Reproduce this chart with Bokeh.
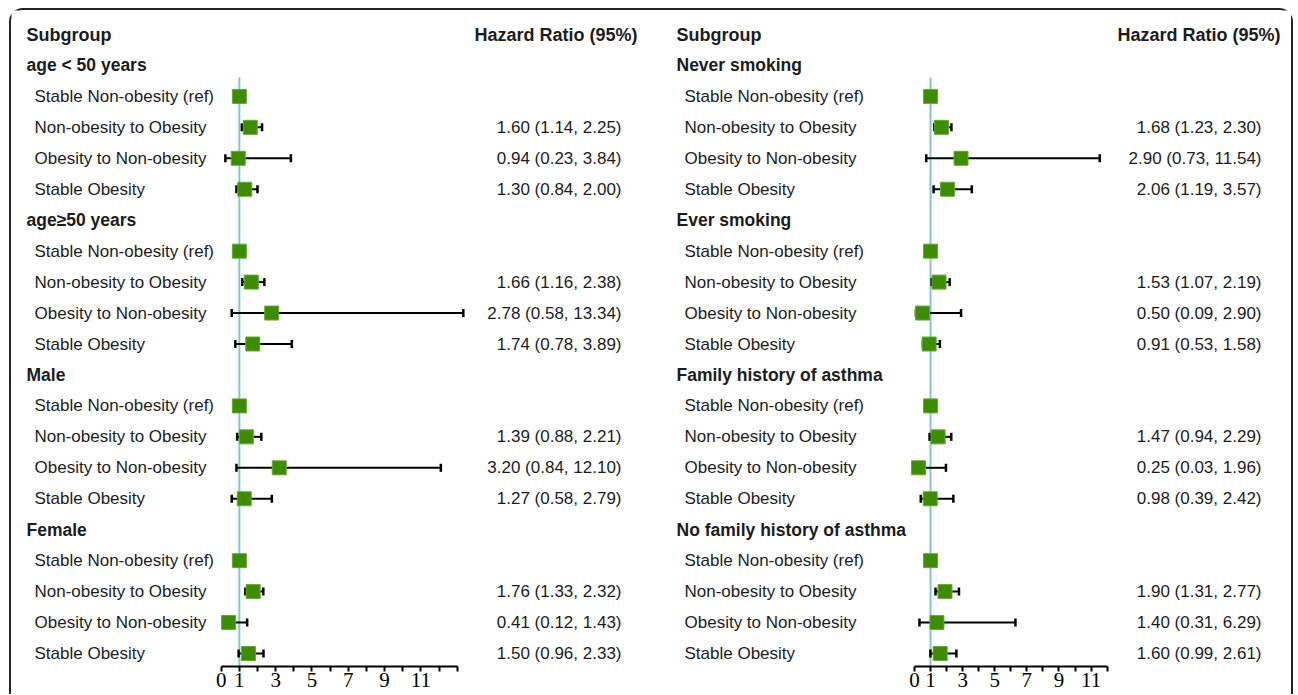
from bokeh.plotting import figure
from bokeh.models import Range1d, LinearAxis, FixedTicker, AllLabels
from bokeh.layouts import row
from bokeh.core.properties import value
from bokeh.embed import file_html
from bokeh.resources import INLINE

# ---------------- data ----------------
row_labels = ["Stable Non-obesity (ref)", "Non-obesity to Obesity",
              "Obesity to Non-obesity", "Stable Obesity"]

left_groups = ["age < 50 years", "age\u226550 years", "Male", "Female"]
left_hr = [1.60, 0.94, 1.30, 1.66, 2.78, 1.74, 1.39, 3.20, 1.27, 1.76, 0.41, 1.50]
left_lo = [1.14, 0.23, 0.84, 1.16, 0.58, 0.78, 0.88, 0.84, 0.58, 1.33, 0.12, 0.96]
left_hi = [2.25, 3.84, 2.00, 2.38, 13.34, 3.89, 2.21, 12.10, 2.79, 2.32, 1.43, 2.33]

right_groups = ["Never smoking", "Ever smoking", "Family history of asthma",
                "No family history of asthma"]
right_hr = [1.68, 2.90, 2.06, 1.53, 0.50, 0.91, 1.47, 0.25, 0.98, 1.90, 1.40, 1.60]
right_lo = [1.23, 0.73, 1.19, 1.07, 0.09, 0.53, 0.94, 0.03, 0.39, 1.31, 0.31, 0.99]
right_hi = [2.30, 11.54, 3.57, 2.19, 2.90, 1.58, 2.29, 1.96, 2.42, 2.77, 6.29, 2.61]

ref_value = 1.0
left_axis_max = 13
right_axis_max = 12
major_tick_values = [0, 1, 3, 5, 7, 9, 11]

title_subgroup = "Subgroup"
title_hr = "Hazard Ratio (95%)"

# ---------------- layout constants (page pixels) ----------------
ROW0 = 34.0        # page y of header row
STEP = 30.95       # row pitch
FIG_TOP = 10       # page y of figure top
FIG_H = 684
BOTTOM = 28
SANS = value("Liberation Sans")
SERIF = "Liberation Serif"
TXT = "#1c1c1c"
GREEN = "#3e8c00"
GREEN_EDGE = "#63a834"
REFC = "#80c8d0"


def panel(groups, hr, lo, hi, axis_max, fig_left, width, zero_px, ppu,
          sub_x, lab_x, val_r, head_r):
    def px(page_x):
        return (page_x - zero_px) / ppu

    frame_h = FIG_H - BOTTOM
    y_top = (FIG_TOP - ROW0) / STEP
    y_bot = (FIG_TOP + frame_h - ROW0) / STEP

    p = figure(width=width, height=FIG_H, output_backend="svg", toolbar_location=None,
               x_range=Range1d(px(fig_left), px(fig_left + width)),
               y_range=Range1d(y_bot, y_top),
               x_axis_location=None, y_axis_location=None,
               min_border_left=0, min_border_right=0, min_border_top=0,
               min_border_bottom=BOTTOM)
    p.outline_line_color = None
    p.grid.visible = False
    p.background_fill_color = "white"
    p.border_fill_color = "white"

    # headers
    p.text(x=[px(sub_x)], y=[0], text=[title_subgroup], text_font=SANS,
           text_font_style="bold", text_font_size="18px", text_baseline="middle",
           text_align="left", text_color=TXT)
    p.text(x=[px(head_r)], y=[0], text=[title_hr], text_font=SANS,
           text_font_style="bold", text_font_size="18px", text_baseline="middle",
           text_align="right", text_color=TXT)

    gy = [1 + 5 * g for g in range(len(groups))]
    p.text(x=[px(sub_x)] * len(groups), y=gy, text=groups, text_font=SANS,
           text_font_style="bold", text_font_size="17.5px", text_baseline="middle",
           text_align="left", text_color=TXT)

    ly, lt = [], []
    for g in range(len(groups)):
        for k, lab in enumerate(row_labels):
            ly.append(2 + 5 * g + k)
            lt.append(lab)
    p.text(x=[px(lab_x)] * len(lt), y=ly, text=lt, text_font=SANS,
           text_font_size="17px", text_baseline="middle", text_align="left",
           text_color=TXT)

    ys = []
    for g in range(len(groups)):
        for k in range(1, 4):
            ys.append(2 + 5 * g + k)
    vals = ["%.2f (%.2f, %.2f)" % (a, b, c) for a, b, c in zip(hr, lo, hi)]
    p.text(x=[px(val_r)] * len(vals), y=ys, text=vals, text_font=SANS,
           text_font_size="17px", text_baseline="middle", text_align="right",
           text_color=TXT)

    # reference line
    p.segment(x0=[ref_value], y0=[1.39], x1=[ref_value], y1=[y_bot],
              line_color=REFC, line_width=2)

    # CIs
    p.segment(x0=lo, y0=ys, x1=hi, y1=ys, line_color="black", line_width=2)
    cap = 0.13
    p.segment(x0=lo, y0=[y - cap for y in ys], x1=lo, y1=[y + cap for y in ys],
              line_color="black", line_width=2.5)
    p.segment(x0=hi, y0=[y - cap for y in ys], x1=hi, y1=[y + cap for y in ys],
              line_color="black", line_width=2.5)

    # squares
    ref_y = [2 + 5 * g for g in range(len(groups))]
    p.scatter(x=[ref_value] * len(ref_y) + list(hr), y=ref_y + ys, marker="square",
              size=14, fill_color=GREEN, line_color=GREEN_EDGE, line_width=1)

    minor = [t for t in range(0, axis_max + 1) if t not in major_tick_values]
    ax = LinearAxis(bounds=(0, axis_max),
                    ticker=FixedTicker(ticks=major_tick_values, minor_ticks=minor),
                    major_label_policy=AllLabels())
    ax.axis_line_color = "black"
    ax.axis_line_width = 2
    ax.major_tick_line_color = "black"
    ax.major_tick_line_width = 2
    ax.major_tick_in = 0
    ax.major_tick_out = 5
    ax.minor_tick_line_color = "black"
    ax.minor_tick_line_width = 2
    ax.minor_tick_in = 0
    ax.minor_tick_out = 5
    ax.major_label_standoff = 1
    ax.major_label_text_font = SERIF
    ax.major_label_text_font_size = "21px"
    ax.major_label_text_color = "black"
    p.add_layout(ax, "below")
    return p


left = panel(left_groups, left_hr, left_lo, left_hi, left_axis_max,
             fig_left=11, width=640, zero_px=220.7, ppu=18.15,
             sub_x=26, lab_x=34, val_r=621, head_r=637)
right = panel(right_groups, right_hr, right_lo, right_hi, right_axis_max,
              fig_left=651, width=640, zero_px=914.0, ppu=16.05,
              sub_x=676, lab_x=684, val_r=1261, head_r=1280)

layout = row(left, right, styles={
    "margin-top": "8px",
    "margin-left": "9px",
    "border-top": "2px solid #222",
    "border-left": "2px solid #222",
    "border-right": "2px solid #222",
    "border-top-left-radius": "14px",
    "border-top-right-radius": "14px",
    "background": "white",
})

open("out.html", "w").write(file_html(layout, INLINE))
